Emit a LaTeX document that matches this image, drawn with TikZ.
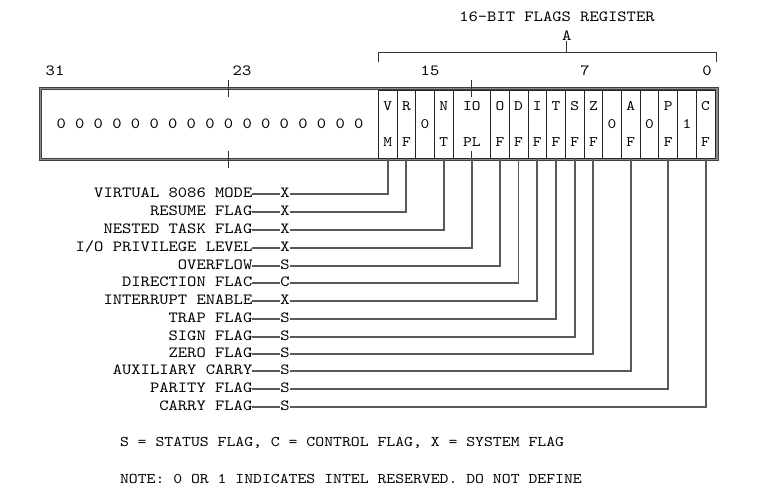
\documentclass[tikz,border=0pt]{standalone}
\usepackage{fontspec}
\setmainfont{lmmono10-regular}[Extension=.otf,FakeStretch=1.143]
\usetikzlibrary{positioning}

\begin{document}
\begin{tikzpicture}[x=1pt,y=-1pt,semithick,
                    every node/.style={inner sep=0pt,outer sep=0pt},
                    node distance=28pt]
	\tikzstyle{bitcell}=[draw=black!85,line width=0.7pt,minimum width=18.7pt,minimum height=68pt,
	                     align=center,font=\fontsize{14.5}{36}\selectfont]
	\tikzstyle{wide cell}=[bitcell,minimum width=37.4pt]
	\tikzstyle{flagname}=[font=\fontsize{15.5}{18}\selectfont,text height=8pt,text depth=0pt]
	\tikzstyle{flagtype}=[flagname]
	\tikzstyle{wire}=[draw=black!65,line width=2pt]
	\tikzstyle{tick}=[draw=black!80,line width=1pt]
	\tikzstyle{bitnum}=[font=\fontsize{15.5}{18}\selectfont]

	\useasboundingbox (0,0) rectangle (769,494);

	% title and bracket
	\node[bitnum] (title) at (557,17) {16-BIT FLAGS REGISTER};
	\node[bitnum] (tag)   at (566.7,36) {A};
	\draw[tick] (378.3,62) -- (378.3,53) -- (716,53) -- (716,62);
	\draw[tick] (566.7,53) -- (tag);

	% bit numbers
	\node[bitnum] (b31) at (55,71)  {31};
	\node[bitnum] (b23) at (242,71) {23};
	\node[bitnum] (b15) at (430,71) {15};
	\node[bitnum] (b7)  at (585,71) {7};
	\node[bitnum] (b0)  at (707,71) {0};

	% register outline
	\draw[line width=0.9pt,draw=black!75,double=black!45,double distance=1.6pt]
		(40.5,88.5) rectangle (717,159.5);

	% reserved upper bits
	\node[bitcell,draw=none,minimum width=336pt,anchor=west,font=\fontsize{15.5}{18}\selectfont]
		(upper) at (42,124) {0 0 0 0 0 0 0 0 0 0 0 0 0 0 0 0 0};

	% flag cells
	\node[bitcell,anchor=west] (vm)   at (378.3,124) {V\\M};
	\node[bitcell]   (rf)   [right=0pt of vm]   {R\\F};
	\node[bitcell]   (r15)  [right=0pt of rf]   {0};
	\node[bitcell]   (nt)   [right=0pt of r15]  {N\\T};
	\node[wide cell] (iopl) [right=0pt of nt]   {IO\\PL};
	\node[bitcell]   (of)   [right=0pt of iopl] {O\\F};
	\node[bitcell]   (df)   [right=0pt of of]   {D\\F};
	\node[bitcell]   (if)   [right=0pt of df]   {I\\F};
	\node[bitcell]   (tf)   [right=0pt of if]   {T\\F};
	\node[bitcell]   (sf)   [right=0pt of tf]   {S\\F};
	\node[bitcell]   (zf)   [right=0pt of sf]   {Z\\F};
	\node[bitcell]   (r5)   [right=0pt of zf]   {0};
	\node[bitcell]   (af)   [right=0pt of r5]   {A\\F};
	\node[bitcell]   (r3)   [right=0pt of af]   {0};
	\node[bitcell]   (pf)   [right=0pt of r3]   {P\\F};
	\node[bitcell]   (r1)   [right=0pt of pf]   {1};
	\node[bitcell]   (cf)   [right=0pt of r1]   {C\\F};

	% ticks
	\draw[tick] (228.7,80) -- (228.7,97);
	\draw[tick] (228.7,151) -- (228.7,168);
	\draw[tick] (iopl.north) ++(0,-10) -- ++(0,17);
	\draw[tick] (iopl.south) ++(0,-7) -- ++(0,17);

	% flag types
	\node[flagtype] (xvm)   at (285,194)   {X};
	\node[flagtype] (xrf)   at (285,212)   {X};
	\node[flagtype] (xnt)   at (285,230)   {X};
	\node[flagtype] (xiopl) at (285,248)   {X};
	\node[flagtype] (sof)   at (285,266)   {S};
	\node[flagtype] (cdf)   at (285,283)   {C};
	\node[flagtype] (xif)   at (285,301)   {X};
	\node[flagtype] (stf)   at (285,319)   {S};
	\node[flagtype] (ssf)   at (285,337)   {S};
	\node[flagtype] (szf)   at (285,354)   {S};
	\node[flagtype] (saf)   at (285,371)   {S};
	\node[flagtype] (spf)   at (285,389)   {S};
	\node[flagtype] (scf)   at (285,407)   {S};

	% flag names
	\node[flagname] (nvm)   [left=of xvm]   {VIRTUAL 8086 MODE};
	\node[flagname] (nrf)   [left=of xrf]   {RESUME FLAG};
	\node[flagname] (nnt)   [left=of xnt]   {NESTED TASK FLAG};
	\node[flagname] (niopl) [left=of xiopl] {I/O PRIVILEGE LEVEL};
	\node[flagname] (nof)   [left=of sof]   {OVERFLOW};
	\node[flagname] (ndf)   [left=of cdf]   {DIRECTION FLAC};
	\node[flagname] (nif)   [left=of xif]   {INTERRUPT ENABLE};
	\node[flagname] (ntf)   [left=of stf]   {TRAP FLAG};
	\node[flagname] (nsf)   [left=of ssf]   {SIGN FLAG};
	\node[flagname] (nzf)   [left=of szf]   {ZERO FLAG};
	\node[flagname] (naf)   [left=of saf]   {AUXILIARY CARRY};
	\node[flagname] (npf)   [left=of spf]   {PARITY FLAG};
	\node[flagname] (ncf)   [left=of scf]   {CARRY FLAG};

	% leaders
	\draw[wire] (nvm) -- (xvm)     (xvm) -| (vm);
	\draw[wire] (nrf) -- (xrf)     (xrf) -| (rf);
	\draw[wire] (nnt) -- (xnt)     (xnt) -| (nt);
	\draw[wire] (niopl) -- (xiopl) (xiopl) -| (iopl);
	\draw[wire] (nof) -- (sof)     (sof) -| (of);
	\draw[wire,line width=1.4pt] (ndf) -- (cdf) (cdf) -| (df);
	\draw[wire] (nif) -- (xif)     (xif) -| (if);
	\draw[wire] (ntf) -- (stf)     (stf) -| (tf);
	\draw[wire] (nsf) -- (ssf)     (ssf) -| (sf);
	\draw[wire] (nzf) -- (szf)     (szf) -| (zf);
	\draw[wire] (naf) -- (saf)     (saf) -| (af);
	\draw[wire] (npf) -- (spf)     (spf) -| (pf);
	\draw[wire] (ncf) -- (scf)     (scf) -| (cf);

	% key
	\node[flagname,anchor=west,font=\fontsize{14.8}{18}\selectfont] (key) at (120,442.5)
		{S = STATUS FLAG, C = CONTROL FLAG, X = SYSTEM FLAG};
	\node[flagname,anchor=west,font=\fontsize{14.8}{18}\selectfont] (note) at (120,479)
		{NOTE: 0 OR 1 INDICATES INTEL RESERVED. DO NOT DEFINE};
\end{tikzpicture}
\end{document}
